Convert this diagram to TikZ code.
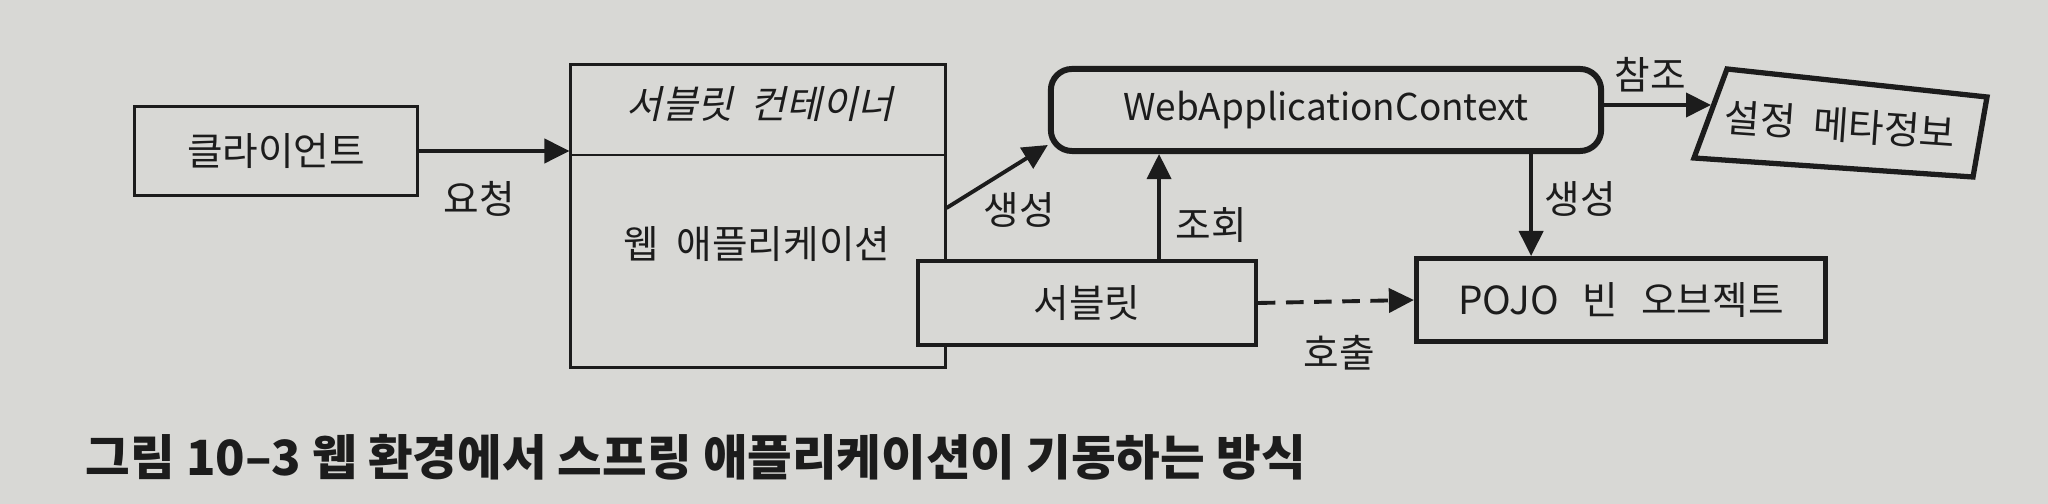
\documentclass[tikz,border=0pt]{standalone}
\usepackage{fontspec}
\setmainfont{Noto Sans CJK KR}
\newfontfamily\slantkr[FakeSlant=0.22]{Noto Sans CJK KR}
\usetikzlibrary{arrows.meta,positioning,calc}
\definecolor{paper}{RGB}{216,216,213}
\definecolor{ink}{RGB}{28,28,28}
\tikzset{
  box/.style={draw=ink, fill=paper, line width=1pt, inner sep=0pt,
              font=\fontsize{11}{13}\selectfont, text=ink},
  ctx/.style={box, rounded corners=6pt, line width=1.7pt},
  lbl/.style={font=\fontsize{11}{13}\selectfont, text=ink, inner sep=1pt},
  ar/.style={-{Triangle[length=2.5mm, width=2.4mm]}, draw=ink, line width=1.1pt},
  ard/.style={ar, dashed, dash pattern=on 5pt off 3pt},
  captext/.style={font=\bfseries\fontsize{13.8}{16}\selectfont, text=ink, inner sep=0pt},
}

\begin{document}
\begin{tikzpicture}[x=0.01cm, y=-0.01cm]
\fill[paper] (0,0) rectangle (2048,504);
\useasboundingbox (0,0) rectangle (2048,504);

\node[box, minimum width=2.83cm, minimum height=0.89cm] (client) at (276,151) {클라이언트};
\node[box, line width=0.8pt, minimum width=3.74cm, minimum height=3.03cm] (cont) at (758,216) {};
\coordinate (split) at (0,155);
\draw[ink, line width=0.8pt] (cont.west |- split) -- (cont.east |- split);
\node[lbl, font=\slantkr\fontsize{11}{13}\selectfont] (conthead) at (760,104) {서블릿~~컨테이너};
\node[lbl] (webapp) at (757,244) {웹~~애플리케이션};

\node[ctx, font=\fontsize{10.5}{13}\selectfont, minimum width=5.50cm, minimum height=0.82cm] (wac) at (1326,110) {WebApplicationContext};
\draw[ink, fill=paper, line width=1.5pt] (1727,69) -- (1987,97) -- (1973,177) -- (1694,158) -- cycle;
\node[lbl, rotate=-4] (meta) at (1840,125) {설정~~메타정보};
\coordinate (metain) at (1711,105);

\node[box, minimum width=3.38cm, minimum height=0.84cm] (servlet) at (1087,303) {서블릿};
\node[box, line width=1.4pt, minimum width=4.09cm, minimum height=0.83cm] (pojo) at (1621,300)
  {POJO\hspace{0.6em}빈\hspace{0.6em}오브젝트};

% connectors
\draw[ar] (client.east) -- (client.east -| cont.west);
\draw[ar] ([yshift=0.08cm]cont.east) -- ([yshift=0.09cm]wac.south west);
\draw[ar] ([xshift=0.72cm]servlet.north) -- ([xshift=0.72cm]servlet.north |- wac.south);
\draw[ar] ([xshift=2.05cm]wac.south) -- ([xshift=2.05cm]wac.south |- pojo.north);
\draw[ar] (wac.east |- metain) -- (metain);
\draw[ard] (servlet.east) -- (pojo.west);

\node[lbl] (req) at (479,199) {요청};
\node[lbl] (make1) at (1019,210) {생성};
\node[lbl] (lookup) at (1211,225) {조회};
\node[lbl] (make2) at (1580,199) {생성};
\node[lbl] (ref) at (1650,75) {참조};
\node[lbl] (call) at (1339,353) {호출};

\node[captext, anchor=west] (caption) at (85,457) {그림 10–3 웹 환경에서 스프링 애플리케이션이 기동하는 방식};
\end{tikzpicture}
\end{document}
